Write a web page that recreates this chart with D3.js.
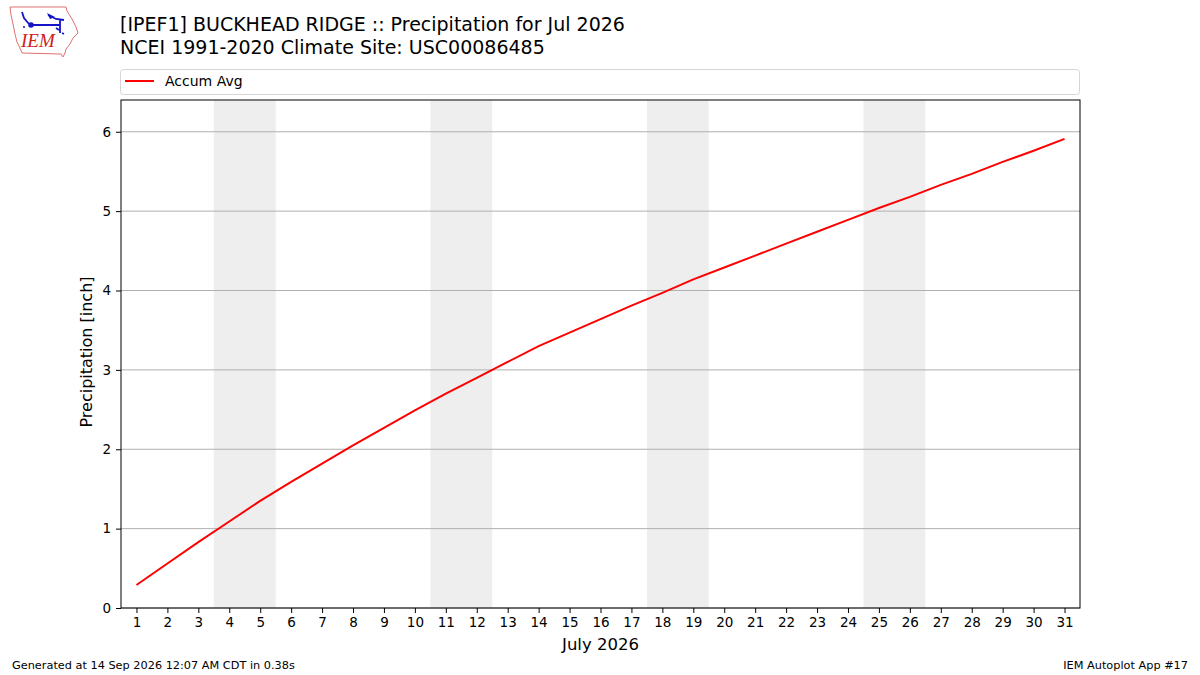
<!DOCTYPE html>
<html><head><meta charset="utf-8">
<script src="https://cdn.jsdelivr.net/npm/d3@7"></script>
<style>body{margin:0;background:#fff;} svg{display:block;font-family:"DejaVu Sans",sans-serif;}</style>
</head><body>
<svg id="c" width="1200" height="675"></svg>
<script>
const days = d3.range(1, 32);
const accumAvg = [0.29,0.56,0.83,1.09,1.35,1.59,1.82,2.05,2.27,2.49,2.70,2.90,3.10,3.30,3.47,3.64,3.81,3.97,4.14,4.29,4.44,4.59,4.74,4.89,5.04,5.18,5.33,5.47,5.62,5.76,5.91];
const weekends = [[4,5],[11,12],[18,19],[25,26]];
const yTicks = [0,1,2,3,4,5,6];
const titleLines = ["[IPEF1] BUCKHEAD RIDGE :: Precipitation for Jul 2026","NCEI 1991-2020 Climate Site: USC00086485"];

const svg = d3.select("#c");
const L=121, R=1080, T=100, B=608;
const x = d3.scaleLinear().domain([0.5,31.5]).range([L,R]);
const y = d3.scaleLinear().domain([0,6.4]).range([B,T]);

// weekend shading
svg.append("g").selectAll("rect").data(weekends).join("rect")
  .attr("x", d=>x(d[0]-0.5)).attr("width", d=>x(d[1]+0.5)-x(d[0]-0.5))
  .attr("y", T).attr("height", B-T).attr("fill", "#eeeeee");

// grid
svg.append("g").selectAll("line").data(yTicks).join("line")
  .attr("x1", L).attr("x2", R).attr("y1", d=>y(d)).attr("y2", d=>y(d))
  .attr("stroke", "#b0b0b0").attr("stroke-width", 1);

// line
svg.append("path").datum(days.map((d,i)=>[d,accumAvg[i]]))
  .attr("d", d3.line().x(d=>x(d[0])).y(d=>y(d[1])))
  .attr("fill","none").attr("stroke","red").attr("stroke-width",2);

// frame
svg.append("rect").attr("x",L).attr("y",T).attr("width",R-L).attr("height",B-T)
  .attr("fill","none").attr("stroke","#000").attr("stroke-width",1);

// axes
const xa = svg.append("g").attr("transform",`translate(0,${B})`)
  .call(d3.axisBottom(x).tickValues(days).tickFormat(d3.format("d")).tickSize(5).tickPadding(4));
const ya = svg.append("g").attr("transform",`translate(${L},0)`)
  .call(d3.axisLeft(y).tickValues(yTicks).tickFormat(d3.format("d")).tickSize(5).tickPadding(5));
[xa,ya].forEach(a=>{a.select(".domain").remove();
  a.selectAll("text").attr("font-size",13.5).attr("font-family","DejaVu Sans").attr("fill","#000");
  a.selectAll("line").attr("stroke","#000");});

// axis labels
svg.append("text").attr("x",(L+R)/2).attr("y",650).attr("text-anchor","middle")
  .attr("font-size",16.5).text("July 2026");
svg.append("text").attr("transform",`translate(92,${(T+B)/2 - 2}) rotate(-90)`).attr("text-anchor","middle")
  .attr("font-size",16).text("Precipitation [inch]");

// title
svg.append("text").attr("x",120).attr("y",31).attr("font-size",19).text(titleLines[0]);
svg.append("text").attr("x",120).attr("y",54).attr("font-size",19).text(titleLines[1]);

// legend
svg.append("rect").attr("x",120.5).attr("y",69.5).attr("width",959).attr("height",25).attr("rx",3)
  .attr("fill","#fff").attr("stroke","#d5d5d5");
svg.append("line").attr("x1",125).attr("x2",154).attr("y1",81).attr("y2",81).attr("stroke","red").attr("stroke-width",2);
svg.append("text").attr("x",165).attr("y",86).attr("font-size",14).text("Accum Avg");

// footer
svg.append("text").attr("x",12).attr("y",669).attr("font-size",11.3).text("Generated at 14 Sep 2026 12:07 AM CDT in 0.38s");
svg.append("text").attr("x",1188).attr("y",669).attr("font-size",11.3).attr("text-anchor","end").text("IEM Autoplot App #17");

// logo
const lg = svg.append("g");
lg.append("path").attr("d","M10,7 L66,7 L67,11 L72,19 L76,27 L78,33 L73,38 L70,44 L66,49 L65,53 L63,57 L61,54 L22,53 L20,48 L17,42 L15,34 L13,24 L11,15 Z")
  .attr("fill","#fff").attr("stroke","#e07070").attr("stroke-width",1);
lg.append("path").attr("d","M31,25 L60,25 M60,20 L60,33 M22,12 L24,18 L29,24 M48,15 L56,19 L64,20 M56,28 L59,30 M62,33 L64,34")
  .attr("stroke","#1515c8").attr("stroke-width",1.8).attr("fill","none");
lg.append("path").attr("d","M47,13 L55,17 L50,19 Z").attr("fill","#1515c8");
lg.append("circle").attr("cx",31).attr("cy",25).attr("r",2.8).attr("fill","#1515c8");
lg.append("circle").attr("cx",24).attr("cy",27).attr("r",1).attr("fill","#1515c8");
lg.append("text").attr("x",21).attr("y",47).attr("font-family","Liberation Serif").attr("font-style","italic")
  .attr("font-size",19).attr("fill","#d02020").text("IEM");
</script>
</body></html>
